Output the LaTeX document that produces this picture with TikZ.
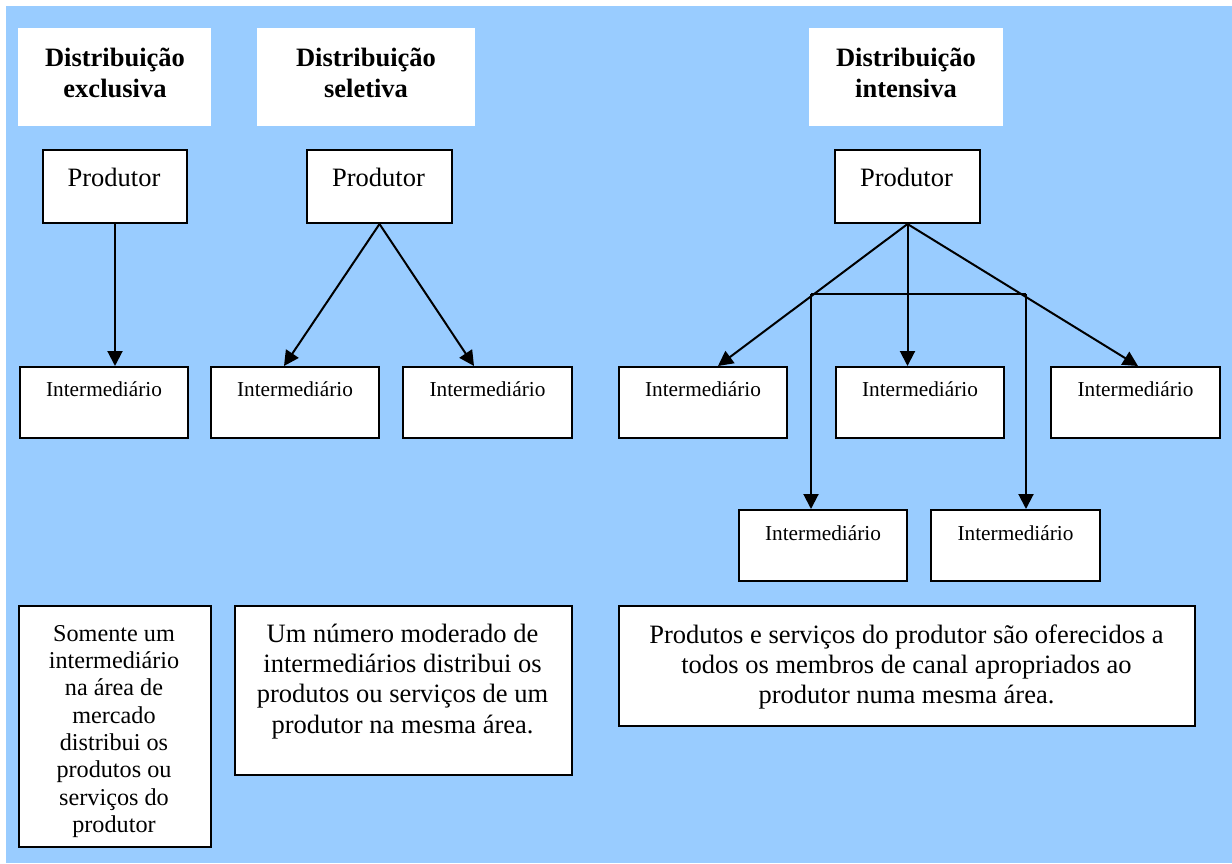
\documentclass[tikz,border=0pt]{standalone}
\usepackage{fontspec}
\setmainfont{Liberation Serif}
\usetikzlibrary{arrows.meta,calc}
\definecolor{bgblue}{RGB}{153,204,255}
\newcommand\firstline{\rule{0pt}{22pt}}
\begin{document}
\begin{tikzpicture}[x=1pt,y=-1pt,
  framebox/.style={draw=black, line width=2pt, fill=white, inner sep=0pt, anchor=north west},
  titlebox/.style={fill=white, inner sep=0pt, anchor=north west},
  conn/.style={line width=2pt, -{Triangle[length=15pt,width=15pt]}},
  plainline/.style={line width=2pt},
  ttl/.style={font=\bfseries\fontsize{26.5}{31}\selectfont, align=center, inner sep=0pt, anchor=north},
  prodtxt/.style={font=\fontsize{26.5}{30}\selectfont, inner sep=0pt, anchor=base},
  inttxt/.style={font=\fontsize{21.3}{24}\selectfont, inner sep=0pt, anchor=base},
  desc/.style={font=\fontsize{26.5}{30.3}\selectfont, align=center, inner sep=0pt, anchor=north},
  descsmall/.style={font=\fontsize{24.2}{27.3}\selectfont, align=center, inner sep=0pt, anchor=north}]

% page and blue panel
\fill[white] (0,0) rectangle (1232,863);
\useasboundingbox (0,0) rectangle (1232,863);
\fill[bgblue] (6,6) rectangle (1232,863);

% column titles
\node[titlebox, minimum width=193pt, minimum height=98pt] (t1) at (18,28) {};
\node[titlebox, minimum width=218pt, minimum height=98pt] (t2) at (257,28) {};
\node[titlebox, minimum width=194pt, minimum height=98pt] (t3) at (809,28) {};
\node[ttl] (t1txt) at (115,44) {\firstline Distribuição\\exclusiva};
\node[ttl] (t2txt) at (366,44) {\firstline Distribuição\\seletiva};
\node[ttl] (t3txt) at (906,44) {\firstline Distribuição\\intensiva};

% producers
\node[framebox, minimum width=144pt, minimum height=73pt] (p1) at (42,149) {};
\node[framebox, minimum width=145pt, minimum height=73pt] (p2) at (306,149) {};
\node[framebox, minimum width=145pt, minimum height=73pt] (p3) at (834,149) {};
\node[prodtxt] (p1txt) at (114,186) {Produtor};
\node[prodtxt] (p2txt) at (378.5,186) {Produtor};
\node[prodtxt] (p3txt) at (906.5,186) {Produtor};

% intermediaries
\node[framebox, minimum width=168pt, minimum height=71pt] (i1) at (19,366) {};
\node[framebox, minimum width=168pt, minimum height=71pt] (i2) at (210,366) {};
\node[framebox, minimum width=169pt, minimum height=71pt] (i3) at (402,366) {};
\node[framebox, minimum width=168pt, minimum height=71pt] (i4) at (618,366) {};
\node[framebox, minimum width=168pt, minimum height=71pt] (i5) at (835,366) {};
\node[framebox, minimum width=169pt, minimum height=71pt] (i6) at (1050,366) {};
\node[framebox, minimum width=168pt, minimum height=71pt] (i7) at (738,509) {};
\node[framebox, minimum width=169pt, minimum height=71pt] (i8) at (930,509) {};
\foreach \b in {i1,i2,i3,i4,i5,i6}
  \node[inttxt] (\b txt) at ([yshift=-30pt]\b.north) {Intermediário};
\foreach \b in {i7,i8}
  \node[inttxt] (\b txt) at ([yshift=-31pt]\b.north) {Intermediário};

% exclusive: one line
\draw[conn] (p1.south) -- (i1.north -| p1.south);

% selective: two branches
\draw[conn] (p2.south) -- ([xshift=-11pt]i2.north);
\draw[conn] (p2.south) -- ([xshift=-13.5pt]i3.north);

% intensive: fan-out with a crossbar feeding the lower row
\draw[conn] (p3.south) -- ([xshift=15pt]i4.north);
\draw[conn] (p3.south) -- (p3.south |- i5.north);
\draw[conn] (p3.south) -- ([xshift=2.5pt]i6.north);
\coordinate (j1) at (811,294);
\coordinate (j2) at (1026,294);
\draw[plainline] (j1) -- (j2);
\draw[conn] (j1) -- (j1 |- i7.north);
\draw[conn] (j2) -- (j2 |- i8.north);

% descriptions
\node[framebox, minimum width=192pt, minimum height=241pt] (d1) at (18,605) {};
\node[framebox, minimum width=337pt, minimum height=169pt] (d2) at (234,605) {};
\node[framebox, minimum width=576pt, minimum height=120pt] (d3) at (618,605) {};
\node[descsmall] (d1txt) at (114,619) {\firstline Somente um\\intermediário\\na área de\\mercado\\distribui os\\produtos ou\\serviços do\\produtor};
\node[desc] (d2txt) at (402.5,620) {\firstline Um número moderado de\\intermediários distribui os\\produtos ou serviços de um\\produtor na mesma área.};
\node[desc] (d3txt) at (906.5,621) {\firstline Produtos e serviços do produtor são oferecidos a\\todos os membros de canal apropriados ao\\produtor numa mesma área.};
\end{tikzpicture}
\end{document}
